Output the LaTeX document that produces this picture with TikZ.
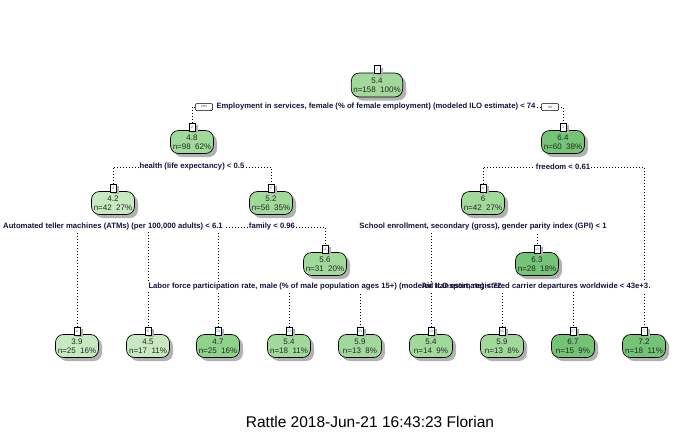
\documentclass[tikz,border=0pt]{standalone}
\usepackage{fontspec}
\setmainfont{Liberation Sans}
\usetikzlibrary{shadows,backgrounds,positioning}
\definecolor{gLight}{HTML}{C7E9C0}
\definecolor{gMid}{HTML}{A1D99B}
\definecolor{gMidB}{HTML}{8FD28A}
\definecolor{gDark}{HTML}{74C476}
\definecolor{splitc}{RGB}{20,20,60}
\definecolor{numc}{RGB}{90,90,170}
\tikzset{
  tnode/.style={draw=black, line width=0.7pt, rounded corners=8pt, minimum width=43pt, minimum height=23pt,
    inner xsep=2pt, inner ysep=1pt, align=center, font=\fontsize{8}{9}\selectfont, text=black!85,
    drop shadow={shadow xshift=3.5pt, shadow yshift=-3.5pt, fill=black!30, opacity=1}},
  numbox/.style={draw=black, line width=0.6pt, fill=white, minimum width=6pt, minimum height=8pt, inner sep=0pt,
    font=\fontsize{3.5}{4}\selectfont, text=numc,
    drop shadow={shadow xshift=2.5pt, shadow yshift=-2.5pt, fill=black!30, opacity=1}},
  splitlab/.style={fill=white, inner xsep=1pt, inner ysep=1pt, font=\fontsize{7.7}{9}\selectfont\bfseries, text=splitc},
  splittxt/.style={inner xsep=1pt, inner ysep=1pt, font=\fontsize{7.7}{9}\selectfont\bfseries, text=splitc},
  splitbg/.style={fill=white, inner xsep=1pt, inner ysep=1pt, font=\fontsize{7.7}{9}\selectfont\bfseries, text opacity=0},
  yesno/.style={draw=black, line width=0.5pt, fill=white, rounded corners=1pt, minimum width=17pt, minimum height=7pt,
    inner sep=0pt, font=\fontsize{4}{4.5}\selectfont, text=black!60},
  conn/.style={line width=0.8pt, dash pattern=on 0.8pt off 2.2pt}
}
\begin{document}
\begin{tikzpicture}[x=1pt,y=-1pt]
\useasboundingbox (0,0) rectangle (700,432);
% internal nodes
\node[tnode, fill=gMid, minimum width=51pt, minimum height=24pt] (n1) at (377,85) {5.4\\n=158\ \ 100\%};
\node[tnode, fill=gMid] (n2) at (192,142) {4.8\\n=98\ \ 62\%};
\node[tnode, fill=gDark] (n3) at (563,142) {6.4\\n=60\ \ 38\%};
\node[tnode, fill=gLight] (n4) at (113,203) {4.2\\n=42\ \ 27\%};
\node[tnode, fill=gMid] (n5) at (271,203) {5.2\\n=56\ \ 35\%};
\node[tnode, fill=gMid] (n6) at (483,203) {6\\n=42\ \ 27\%};
\node[tnode, fill=gMid] (n11) at (325,264) {5.6\\n=31\ \ 20\%};
\node[tnode, fill=gDark] (n13) at (537,264) {6.3\\n=28\ \ 18\%};
% leaves
\node[tnode, fill=gLight] (n8) at (77,346) {3.9\\n=25\ \ 16\%};
\node[tnode, fill=gLight] (n9) at (148,346) {4.5\\n=17\ \ 11\%};
\node[tnode, fill=gMidB] (n10) at (218,346) {4.7\\n=25\ \ 16\%};
\node[tnode, fill=gMid] (n22) at (289,346) {5.4\\n=18\ \ 11\%};
\node[tnode, fill=gMid] (n23) at (360,346) {5.9\\n=13\ \ 8\%};
\node[tnode, fill=gMid] (n12) at (431,346) {5.4\\n=14\ \ 9\%};
\node[tnode, fill=gMid] (n26) at (502,346) {5.9\\n=13\ \ 8\%};
\node[tnode, fill=gDark] (n27) at (573,346) {6.7\\n=15\ \ 9\%};
\node[tnode, fill=gDark] (n7) at (644,346) {7.2\\n=18\ \ 11\%};
% number boxes
\foreach \k in {1,2,3,4,5,6,11,13,8,9,10,22,23,12,26,27,7}{
  \node[numbox, anchor=south] (m\k) at ([yshift=-1pt]n\k.north) {\k};
}
% split labels
\node[splitlab] (s1) at (376,107) {Employment in services, female (\% of female employment) (modeled ILO estimate) < 74};
\node[yesno] (yes) at (204,107) {yes};
\node[yesno] (no) at (550,107) {no};
\node[splitlab] (s2) at (192,167) {health (life expectancy) < 0.5};
\node[splitlab] (s3) at (563,167) {freedom < 0.61};
\node[splitlab] (s4) at (113,227) {Automated teller machines (ATMs) (per 100,000 adults) < 6.1};
\node[splitlab] (s5) at (272,227) {family < 0.96};
\node[splitlab] (s6) at (483,227) {School enrollment, secondary (gross), gender parity index (GPI) < 1};
\node[splitbg] at (325,287) {Labor force participation rate, male (\% of male population ages 15+) (modeled ILO estimate) < 72};
\node[splitbg] at (535,287) {Air transport, registered carrier departures worldwide < 43e+3};
\node[splittxt] (s11) at (325,287) {Labor force participation rate, male (\% of male population ages 15+) (modeled ILO estimate) < 72};
\node[splittxt] (s13) at (535,287) {Air transport, registered carrier departures worldwide < 43e+3};
% title
\node[font=\fontsize{15.5}{17}\selectfont, text=black] (title) at (370,422) {Rattle 2018-Jun-21 16:43:23 Florian};
% connectors
\begin{pgfonlayer}{background}
\draw[conn] (m2.north) |- (s1) -| (m3.north);
\draw[conn] (m4.north) |- (s2) -| (m5.north);
\draw[conn] (m6.north) |- (s3) -| (m7.north);
\draw[conn] (m8.north) |- (s4) -| (m9.north);
\draw[conn] (m10.north) |- (s5) -| (m11.north);
\draw[conn] (m12.north) |- (s6) -| (m13.north);
\draw[conn] (m22.north) |- (s11) -| (m23.north);
\draw[conn] (m26.north) |- (s13) -| (m27.north);
\end{pgfonlayer}
\end{tikzpicture}
\end{document}
